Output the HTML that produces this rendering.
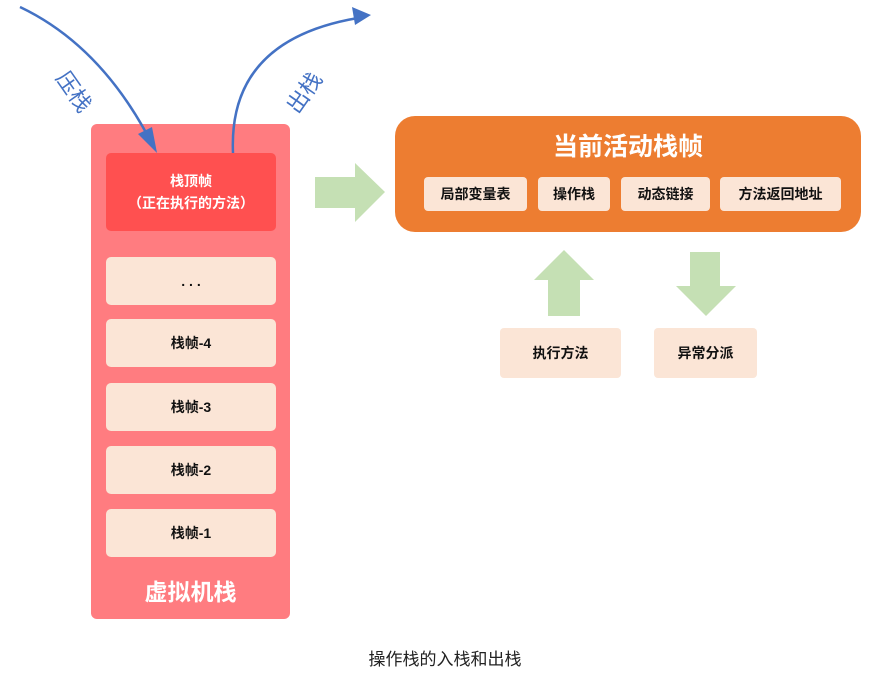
<!DOCTYPE html>
<html><head><meta charset="utf-8"><style>
body{margin:0;width:872px;height:683px;background:#fff;position:relative;overflow:hidden;font-family:"Liberation Sans","Noto Sans CJK SC",sans-serif}
.a{position:absolute;box-sizing:border-box;display:flex;align-items:center;justify-content:center;text-align:center}
.it{background:#fbe5d6;border-radius:5px;font-weight:bold;font-size:14px;color:#111;left:106px;width:170px;height:48px}
.sb{background:#fbe5d6;border-radius:4px;font-weight:bold;font-size:14px;color:#111;top:177px;height:34px}
</style></head><body>
<div class="a" style="left:91px;top:124px;width:199px;height:495px;background:#ff7c80;border-radius:6px"></div>
<div class="a" style="left:106px;top:153px;width:170px;height:78px;background:#ff5050;border-radius:5px;color:#fff;font-weight:bold;font-size:14px;line-height:22px">栈顶帧<br>（正在执行的方法）</div>
<div class="a it" style="top:257px">. . .</div>
<div class="a it" style="top:319px">栈帧-4</div>
<div class="a it" style="top:383px">栈帧-3</div>
<div class="a it" style="top:446px">栈帧-2</div>
<div class="a it" style="top:509px">栈帧-1</div>
<div class="a" style="left:91px;top:570px;width:199px;height:40px;color:#fff;font-weight:bold;font-size:23px">虚拟机栈</div>
<div class="a" style="left:395px;top:116px;width:466px;height:116px;background:#ed7d31;border-radius:20px"></div>
<div class="a" style="left:395px;top:126px;width:466px;height:38px;color:#fff;font-weight:bold;font-size:25px">当前活动栈帧</div>
<div class="a sb" style="left:424px;width:103px">局部变量表</div>
<div class="a sb" style="left:538px;width:72px">操作栈</div>
<div class="a sb" style="left:621px;width:89px">动态链接</div>
<div class="a sb" style="left:720px;width:121px">方法返回地址</div>
<div class="a sb" style="left:500px;top:328px;width:121px;height:50px">执行方法</div>
<div class="a sb" style="left:654px;top:328px;width:103px;height:50px">异常分派</div>
<div class="a" style="left:0;top:644px;width:890px;height:26px;font-size:17px;color:#222">操作栈的入栈和出栈</div>
<svg width="872" height="683" style="position:absolute;left:0;top:0">
<polygon points="315,177 355,177 355,163 385,192 355,222 355,208 315,208" fill="#c5e0b4"/>
<polygon points="548,316 580,316 580,280 594,280 564,250 534,280 548,280" fill="#c5e0b4"/>
<polygon points="690,252 720,252 720,286 736,286 706,316 676,286 690,286" fill="#c5e0b4"/>
<path d="M20,7 Q100,45 150,140" stroke="#4472c4" stroke-width="2.5" fill="none"/>
<polygon points="157,153 138,134 152,127" fill="#4472c4"/>
<path d="M233,153 Q228,40 358,18" stroke="#4472c4" stroke-width="2.5" fill="none"/>
<polygon points="371,15 352,7 355,25" fill="#4472c4"/>
<text x="0" y="0" font-size="22" fill="#4472c4" transform="translate(55,78) rotate(55)" font-family="Liberation Sans,Noto Sans CJK SC,sans-serif">压栈</text>
<text x="0" y="0" font-size="22" fill="#4472c4" transform="translate(298,115) rotate(-55)" font-family="Liberation Sans,Noto Sans CJK SC,sans-serif">出栈</text>
</svg>
</body></html>
